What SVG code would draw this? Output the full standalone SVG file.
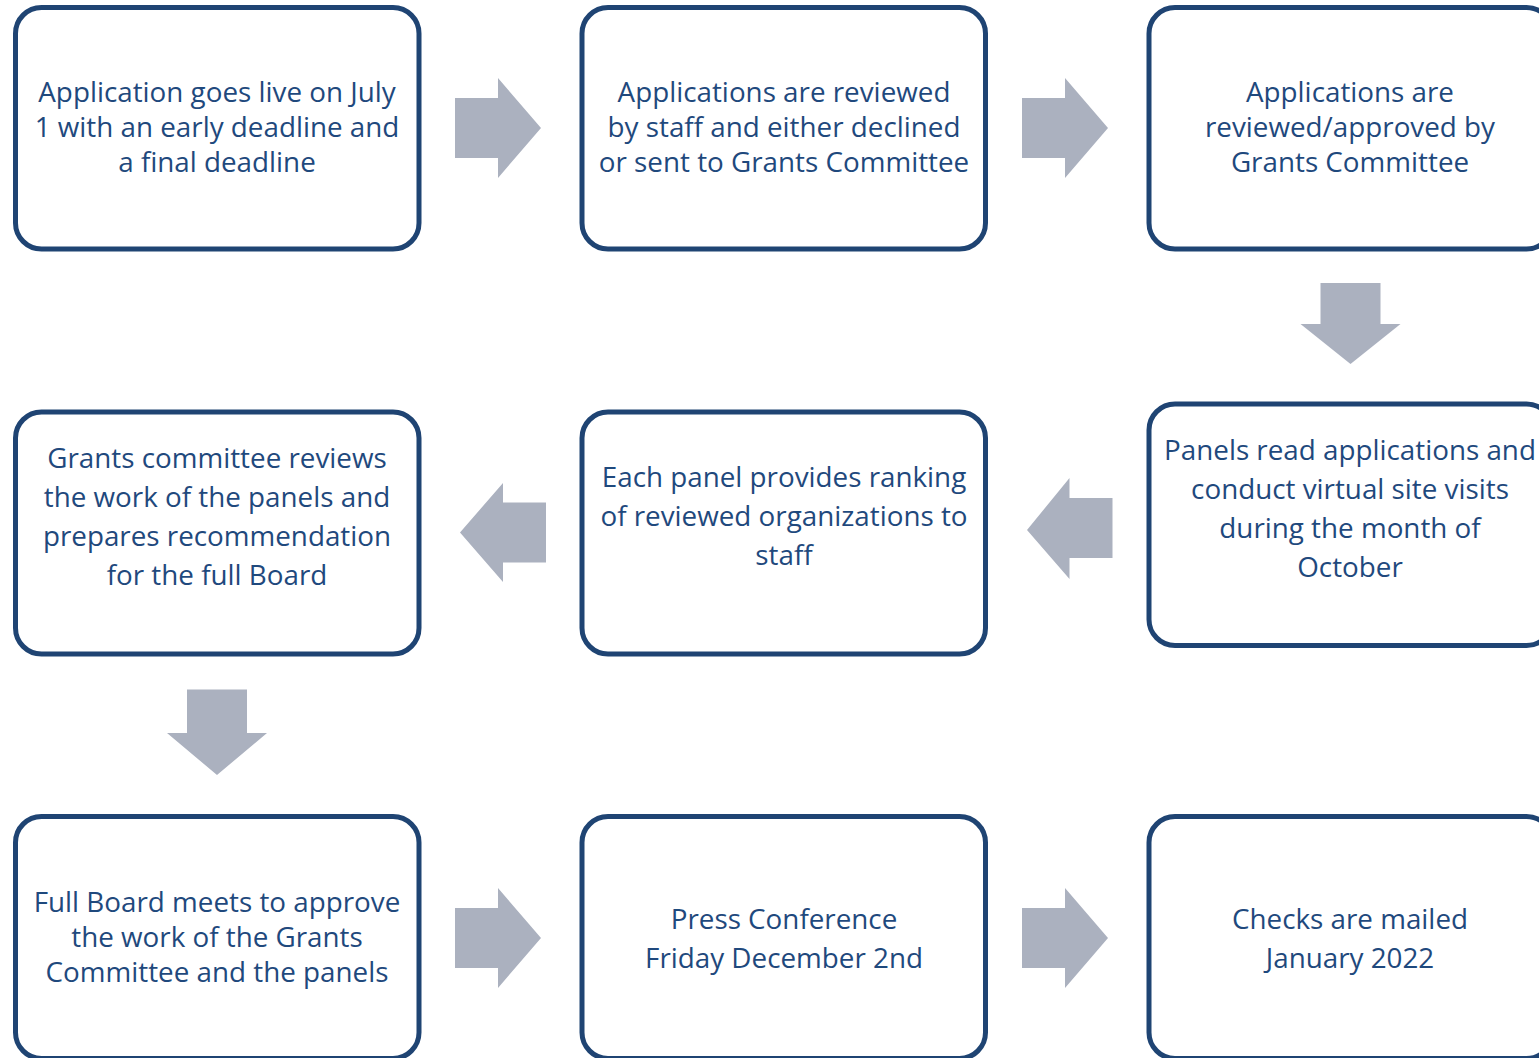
<svg xmlns="http://www.w3.org/2000/svg" width="1539" height="1058" viewBox="0 0 1539 1058">
<style>
.box{fill:#ffffff;stroke:#1F4473;stroke-width:5}
.t{font-family:"Open Sans","Liberation Sans",sans-serif;font-size:27.8px;fill:#1F497D;text-anchor:middle}
.arr{fill:#ABB1BF}
</style>
<rect width="1539" height="1058" fill="#ffffff"/>
<g id="connectors">
<polygon class="arr" points="455,98 498,98 498,78 541,128 498,178 498,158 455,158"/>
<polygon class="arr" points="1022,98 1065,98 1065,78 1108,128 1065,178 1065,158 1022,158"/>
<polygon class="arr" points="1320.5,283 1380.5,283 1380.5,324 1400.5,324 1350.5,364 1300.5,324 1320.5,324"/>
<polygon class="arr" points="1112.5,498 1069.5,498 1069.5,478 1027,530 1069.5,579 1069.5,558 1112.5,558"/>
<polygon class="arr" points="546,502.5 503,502.5 503,483 460,532.5 503,582 503,562.5 546,562.5"/>
<polygon class="arr" points="187,689.5 247,689.5 247,733 267,733 217,775 167,733 187,733"/>
<polygon class="arr" points="455,908 498,908 498,888 541,938 498,988 498,968 455,968"/>
<polygon class="arr" points="1022,908 1065,908 1065,888 1108,938 1065,988 1065,968 1022,968"/>
</g>
<g id="n1"><rect class="box" x="15.5" y="7.5" width="403.5" height="241.5" rx="26"/>
<text class="t" x="217" y="101.5">Application goes live on July</text>
<text class="t" x="217" y="136.5">1 with an early deadline and</text>
<text class="t" x="217" y="171.5">a final deadline</text></g>
<g id="n2"><rect class="box" x="582" y="7.5" width="403.5" height="241.5" rx="26"/>
<text class="t" x="784" y="101.5">Applications are reviewed</text>
<text class="t" x="784" y="136.5">by staff and either declined</text>
<text class="t" x="784" y="171.5">or sent to Grants Committee</text></g>
<g id="n3"><rect class="box" x="1149" y="7.5" width="403.5" height="241.5" rx="26"/>
<text class="t" x="1350" y="101.5">Applications are</text>
<text class="t" x="1350" y="136.5">reviewed/approved by</text>
<text class="t" x="1350" y="171.5">Grants Committee</text></g>
<g id="n4"><rect class="box" x="1149" y="404" width="403.5" height="241.5" rx="26"/>
<text class="t" x="1350" y="460">Panels read applications and</text>
<text class="t" x="1350" y="499">conduct virtual site visits</text>
<text class="t" x="1350" y="538">during the month of</text>
<text class="t" x="1350" y="577">October</text></g>
<g id="n5"><rect class="box" x="582" y="412" width="403.5" height="242" rx="26"/>
<text class="t" x="784" y="487">Each panel provides ranking</text>
<text class="t" x="784" y="526">of reviewed organizations to</text>
<text class="t" x="784" y="565">staff</text></g>
<g id="n6"><rect class="box" x="15.5" y="412" width="403.5" height="242" rx="26"/>
<text class="t" x="217" y="468">Grants committee reviews</text>
<text class="t" x="217" y="507">the work of the panels and</text>
<text class="t" x="217" y="546">prepares recommendation</text>
<text class="t" x="217" y="585">for the full Board</text></g>
<g id="n7"><rect class="box" x="15.5" y="816.5" width="403.5" height="242" rx="26"/>
<text class="t" x="217" y="911.5">Full Board meets to approve</text>
<text class="t" x="217" y="946.5">the work of the Grants</text>
<text class="t" x="217" y="981.5">Committee and the panels</text></g>
<g id="n8"><rect class="box" x="582" y="816.5" width="403.5" height="242" rx="26"/>
<text class="t" x="784" y="928.5">Press Conference</text>
<text class="t" x="784" y="967.5">Friday December 2nd</text></g>
<g id="n9"><rect class="box" x="1149" y="816.5" width="403.5" height="242" rx="26"/>
<text class="t" x="1350" y="928.5">Checks are mailed</text>
<text class="t" x="1350" y="967.5">January 2022</text></g>
</svg>
